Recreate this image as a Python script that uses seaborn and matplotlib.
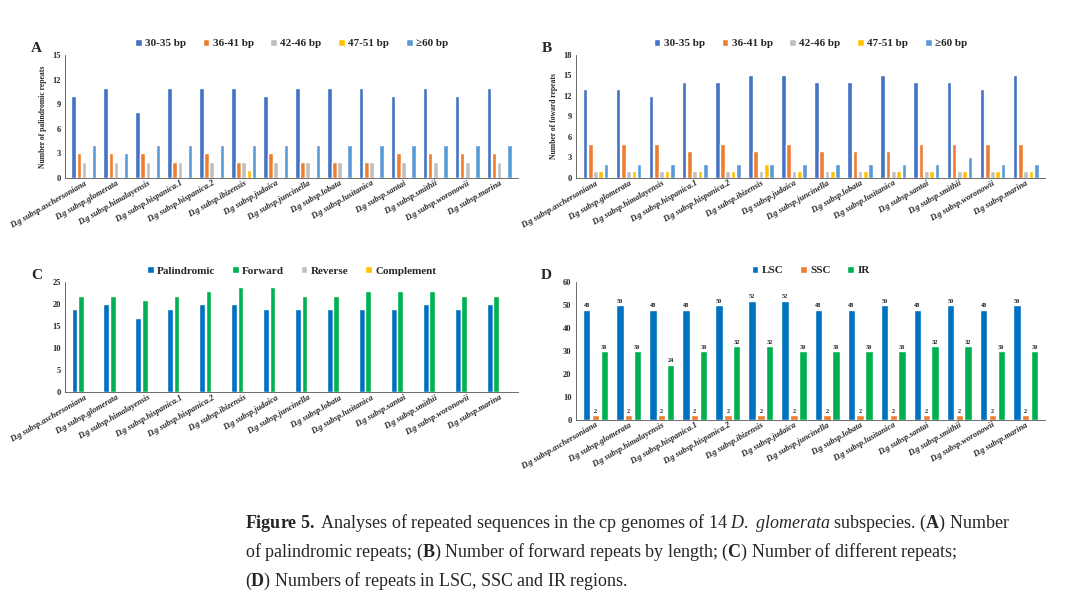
import matplotlib
matplotlib.use("Agg")
import matplotlib.pyplot as plt
import seaborn as sns
import pandas as pd

subsp = ["aschersoniana", "glomerata", "himalayensis", "hispanica.1", "hispanica.2", "ibizensis",
         "judaica", "juncinella", "lobata", "lusitanica", "santai", "smithii", "woronowii", "marina"]
labels = ["D.g subsp." + s for s in subsp]

len_classes = ["30-35 bp", "36-41 bp", "42-46 bp", "47-51 bp", "\u226560 bp"]
len_colors = ["#4472C4", "#ED7D31", "#BFBFBF", "#FFC000", "#5B9BD5"]

pal_30 = [10, 11, 8, 11, 11, 11, 10, 11, 11, 11, 10, 11, 10, 11]
pal_36 = [3, 3, 3, 2, 3, 2, 3, 2, 2, 2, 3, 3, 3, 3]
pal_42 = [2, 2, 2, 2, 2, 2, 2, 2, 2, 2, 2, 2, 2, 2]
pal_47 = [0, 0, 0, 0, 0, 1, 0, 0, 0, 0, 0, 0, 0, 0]
pal_60 = [4, 3, 4, 4, 4, 4, 4, 4, 4, 4, 4, 4, 4, 4]

fwd_30 = [13, 13, 12, 14, 14, 15, 15, 14, 14, 15, 14, 14, 13, 15]
fwd_36 = [5, 5, 5, 4, 5, 4, 5, 4, 4, 4, 5, 5, 5, 5]
fwd_42 = [1, 1, 1, 1, 1, 1, 1, 1, 1, 1, 1, 1, 1, 1]
fwd_47 = [1, 1, 1, 1, 1, 2, 1, 1, 1, 1, 1, 1, 1, 1]
fwd_60 = [2, 2, 2, 2, 2, 2, 2, 2, 2, 2, 2, 3, 2, 2]

type_classes = ["Palindromic", "Forward", "Reverse", "Complement"]
type_colors = ["#0070C0", "#00B050", "#BFBFBF", "#FFC000"]
n_pal = [19, 20, 17, 19, 20, 20, 19, 19, 19, 19, 19, 20, 19, 20]
n_fwd = [22, 22, 21, 22, 23, 24, 24, 22, 22, 23, 23, 23, 22, 22]
n_rev = [0] * 14
n_comp = [0] * 14

reg_classes = ["LSC", "SSC", "IR"]
reg_colors = ["#0070C0", "#ED7D31", "#00B050"]
n_lsc = [48, 50, 48, 48, 50, 52, 52, 48, 48, 50, 48, 50, 48, 50]
n_ssc = [2] * 14
n_ir = [30, 30, 24, 30, 32, 32, 30, 30, 30, 30, 32, 32, 30, 30]


def long_df(series, names):
    rows = []
    for vals, name in zip(series, names):
        for lab, v in zip(labels, vals):
            rows.append({"sp": lab, "cls": name, "n": v})
    return pd.DataFrame(rows)


sns.set_style("white")
plt.rcParams["font.family"] = ["Liberation Serif", "DejaVu Serif"]
plt.rcParams["mathtext.fontset"] = "custom"
plt.rcParams["mathtext.rm"] = "Liberation Serif"
plt.rcParams["mathtext.it"] = "Liberation Serif:italic"
plt.rcParams["mathtext.bf"] = "Liberation Serif:bold"

fig = plt.figure(figsize=(10.8, 5.97), dpi=100)


def panel(rect, df, names, colors, letter, ymax, step, ylabel, gap, bar_labels=False):
    ax = fig.add_axes(rect)
    sns.barplot(data=df, x="sp", y="n", hue="cls", hue_order=names, palette=colors,
                ax=ax, width=0.8, gap=gap, saturation=1, errorbar=None)
    ax.set_ylim(0, ymax)
    ax.set_yticks(range(0, ymax + 1, step))
    ax.set_xlim(-0.6, 13.6)
    ax.tick_params(axis="y", labelsize=6, length=2, pad=1)
    ax.tick_params(axis="x", length=0, pad=1)
    for t in ax.get_yticklabels():
        t.set_fontweight("bold")
    ax.set_xticks(range(14))
    ax.set_xticklabels(labels, rotation=30, ha="right", rotation_mode="anchor",
                       fontsize=6, fontweight="bold", fontstyle="italic")
    ax.set_xlabel("")
    ax.set_ylabel(ylabel, fontsize=5.5, fontweight="bold")
    sns.despine(ax=ax)
    for s in ["left", "bottom"]:
        ax.spines[s].set_linewidth(0.6)
        ax.spines[s].set_color("#555555")
    ax.legend(loc="lower center", bbox_to_anchor=(0.5, 1.02), ncol=len(names), frameon=False,
              prop={"weight": "bold", "size": 8}, handlelength=0.6, handleheight=0.6,
              columnspacing=1.5, handletextpad=0.3, borderaxespad=0)
    ax.text(-0.05, 1.0, letter, transform=ax.transAxes, fontsize=11, fontweight="bold",
            ha="right", va="bottom")
    if bar_labels:
        for c in ax.containers:
            ax.bar_label(c, fontsize=4.5, fontweight="bold", padding=1)
    return ax


panel([0.06, 0.702, 0.42, 0.206],
      long_df([pal_30, pal_36, pal_42, pal_47, pal_60], len_classes),
      len_classes, len_colors, "A", 15, 3, "Number of palindromic repeats", 0.12)
panel([0.533, 0.702, 0.435, 0.206],
      long_df([fwd_30, fwd_36, fwd_42, fwd_47, fwd_60], len_classes),
      len_classes, len_colors, "B", 18, 3, "Number of foward repeats", 0.12)
panel([0.06, 0.343, 0.42, 0.184],
      long_df([n_pal, n_fwd, n_rev, n_comp], type_classes),
      type_classes, type_colors, "C", 25, 5, "", 0.1)
panel([0.533, 0.297, 0.435, 0.23],
      long_df([n_lsc, n_ssc, n_ir], reg_classes),
      reg_classes, reg_colors, "D", 60, 10, "", 0.15, bar_labels=True)

cap = [r"$\mathbf{Figure\ 5.}$ Analyses of repeated sequences in the cp genomes of 14 $\mathit{D.\ glomerata}$ subspecies. ($\mathbf{A}$) Number",
       r"of palindromic repeats; ($\mathbf{B}$) Number of forward repeats by length; ($\mathbf{C}$) Number of different repeats;",
       r"($\mathbf{D}$) Numbers of repeats in LSC, SSC and IR regions."]
for i, line in enumerate(cap):
    fig.text(0.227, 0.115 - i * 0.048, line, fontsize=13, ha="left", va="baseline")

fig.savefig("out.png", dpi=100)
